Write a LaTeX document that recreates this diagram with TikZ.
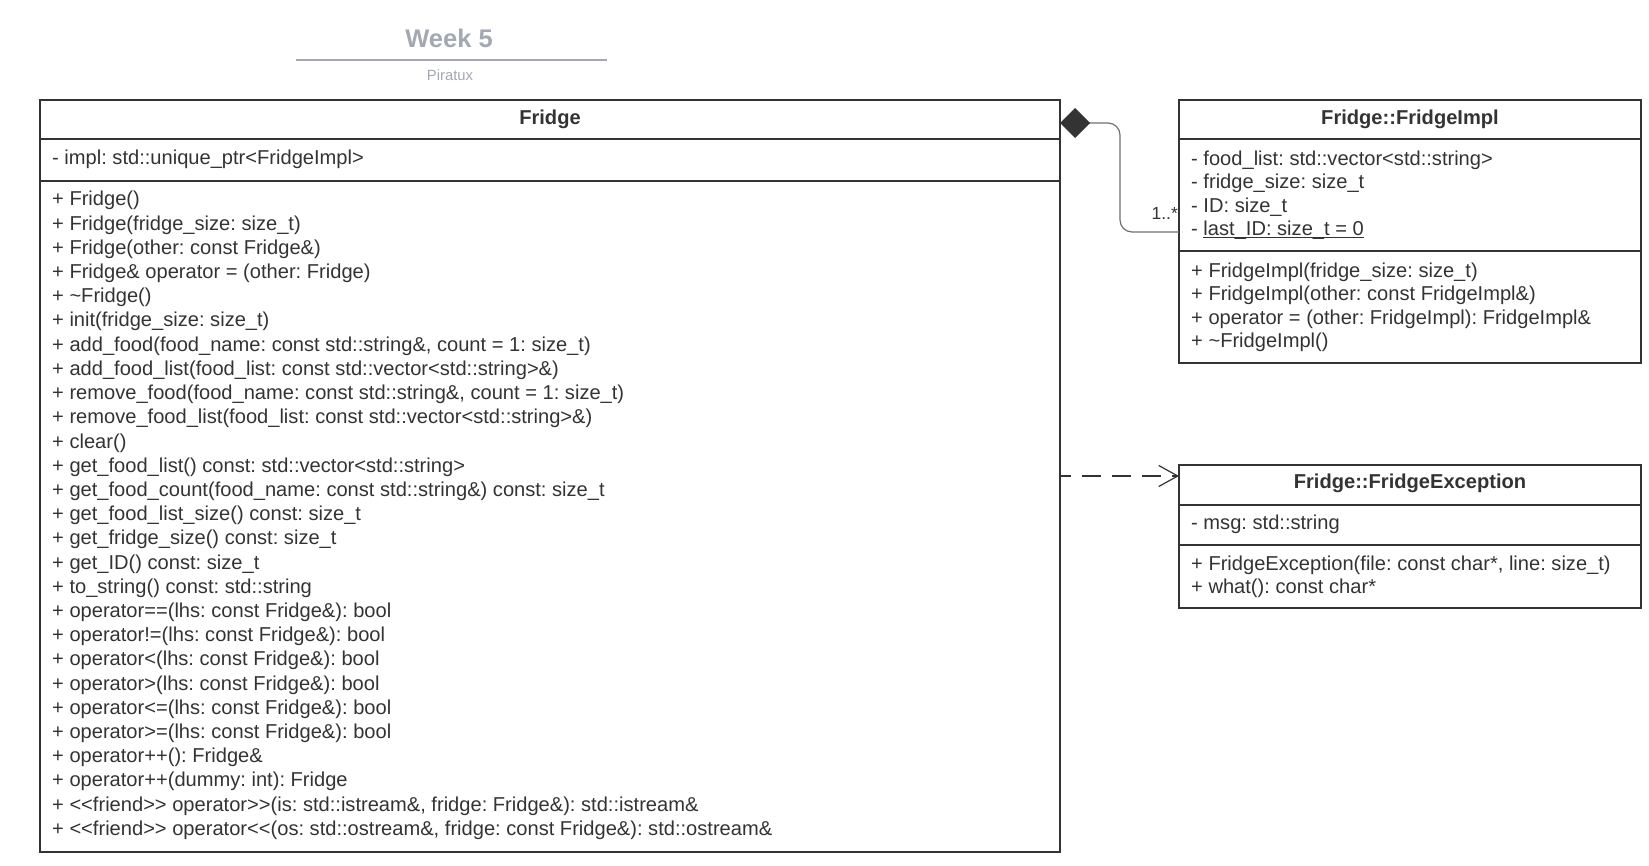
\documentclass[tikz,border=0pt]{standalone}
\usepackage{fontspec}
\setmainfont{Liberation Sans}[Ligatures=TeXOff]
\usetikzlibrary{calc,arrows.meta}
\definecolor{ink}{HTML}{333333}
\definecolor{titlegray}{HTML}{A3A8B3}
\definecolor{subgray}{HTML}{A3A8B1}
\definecolor{linkgray}{HTML}{6E6E6E}
% underline sitting just below the baseline
\newcommand\staticul[1]{\setbox0\hbox{#1}\rlap{\vrule height -1.6pt depth 2.8pt width \wd0}\box0}
\frenchspacing
\begin{document}
\begin{tikzpicture}[x=1pt,y=-1pt,
  classbox/.style={draw=ink, line width=2.2pt, rectangle, inner sep=0pt, outer sep=0pt, anchor=north west},
  divider/.style={draw=ink, line width=2pt},
  member/.style={anchor=base west, inner sep=0pt, text=ink, font=\fontsize{20.1}{23}\selectfont},
  classname/.style={anchor=base, inner sep=0pt, text=ink, font=\fontsize{20.1}{23}\selectfont\bfseries},
  compose/.style={draw=linkgray, line width=1.2pt, rounded corners=12pt,
    {Diamond[length=30pt,width=30pt,fill=ink,color=ink,line width=0pt]}-},
  depend/.style={draw=ink, line width=1.2pt, dash pattern=on 19pt off 11pt, dash phase=8pt,
    -{Straight Barb[length=19pt,width=21pt,line width=1.2pt]}},
]
\useasboundingbox (0,0) rectangle (1649,866);

% title block
\node[anchor=base, inner sep=0pt, text=titlegray, font=\fontsize{25.5}{30}\selectfont\bfseries] (title) at (449,47.8) {Week 5};
\draw[titlegray, line width=1.5pt] (296,60) -- (607,60);
\node[anchor=base, inner sep=0pt, text=subgray, font=\fontsize{14.8}{18}\selectfont] (author) at (450,80.5) {Piratux};

% class Fridge
\node[classbox, minimum width=1020pt, minimum height=752pt] (fridge) at (40,100) {};
\draw[divider] (fridge.west |- 0,139) -- (fridge.east |- 0,139);
\draw[divider] (fridge.west |- 0,181) -- (fridge.east |- 0,181);
\node[classname] (fname) at (550,124.3) {Fridge};
\node[member] (fa1) at (52,164.8) {- impl: std::unique\_ptr<FridgeImpl>};
\node[member] (fm1)  at (52,206.0) {+ Fridge()};
\node[member] (fm2)  at (52,230.2) {+ Fridge(fridge\_size: size\_t)};
\node[member] (fm3)  at (52,254.4) {+ Fridge(other: const Fridge\&)};
\node[member] (fm4)  at (52,278.6) {+ Fridge\& operator = (other: Fridge)};
\node[member] (fm5)  at (52,302.8) {+ \textasciitilde Fridge()};
\node[member] (fm6)  at (52,327.0) {+ init(fridge\_size: size\_t)};
\node[member] (fm7)  at (52,351.2) {+ add\_food(food\_name: const std::string\&, count = 1: size\_t)};
\node[member] (fm8)  at (52,375.4) {+ add\_food\_list(food\_list: const std::vector<std::string>\&)};
\node[member] (fm9)  at (52,399.6) {+ remove\_food(food\_name: const std::string\&, count = 1: size\_t)};
\node[member] (fm10) at (52,423.8) {+ remove\_food\_list(food\_list: const std::vector<std::string>\&)};
\node[member] (fm11) at (52,448.0) {+ clear()};
\node[member] (fm12) at (52,472.2) {+ get\_food\_list() const: std::vector<std::string>};
\node[member] (fm13) at (52,496.4) {+ get\_food\_count(food\_name: const std::string\&) const: size\_t};
\node[member] (fm14) at (52,520.6) {+ get\_food\_list\_size() const: size\_t};
\node[member] (fm15) at (52,544.8) {+ get\_fridge\_size() const: size\_t};
\node[member] (fm16) at (52,569.0) {+ get\_ID() const: size\_t};
\node[member] (fm17) at (52,593.2) {+ to\_string() const: std::string};
\node[member] (fm18) at (52,617.4) {+ operator==(lhs: const Fridge\&): bool};
\node[member] (fm19) at (52,641.6) {+ operator!=(lhs: const Fridge\&): bool};
\node[member] (fm20) at (52,665.8) {+ operator<(lhs: const Fridge\&): bool};
\node[member] (fm21) at (52,690.0) {+ operator>(lhs: const Fridge\&): bool};
\node[member] (fm22) at (52,714.2) {+ operator<=(lhs: const Fridge\&): bool};
\node[member] (fm23) at (52,738.4) {+ operator>=(lhs: const Fridge\&): bool};
\node[member] (fm24) at (52,762.6) {+ operator++(): Fridge\&};
\node[member] (fm25) at (52,786.8) {+ operator++(dummy: int): Fridge};
\node[member] (fm26) at (52,811.0) {+ <<friend>> operator>>(is: std::istream\&, fridge: Fridge\&): std::istream\&};
\node[member] (fm27) at (52,835.2) {+ <<friend>> operator<<(os: std::ostream\&, fridge: const Fridge\&): std::ostream\&};

% class Fridge::FridgeImpl
\node[classbox, minimum width=462pt, minimum height=263pt] (impl) at (1179,100) {};
\draw[divider] (impl.west |- 0,139) -- (impl.east |- 0,139);
\draw[divider] (impl.west |- 0,251) -- (impl.east |- 0,251);
\node[classname] (iname) at (1410,124.8) {Fridge::FridgeImpl};
\node[member] (ia1) at (1191,165.7) {- food\_list: std::vector<std::string>};
\node[member] (ia2) at (1191,189.0) {- fridge\_size: size\_t};
\node[member] (ia3) at (1191,212.3) {- ID: size\_t};
\node[member] (ia4) at (1191,235.6) {- \staticul{last\_ID: size\_t = 0}};
\node[member] (im1) at (1191,277.7) {+ FridgeImpl(fridge\_size: size\_t)};
\node[member] (im2) at (1191,301.0) {+ FridgeImpl(other: const FridgeImpl\&)};
\node[member] (im3) at (1191,324.3) {+ operator = (other: FridgeImpl): FridgeImpl\&};
\node[member] (im4) at (1191,347.6) {+ \textasciitilde FridgeImpl()};

% class Fridge::FridgeException
\node[classbox, minimum width=462pt, minimum height=143pt] (exc) at (1179,465) {};
\draw[divider] (exc.west |- 0,505) -- (exc.east |- 0,505);
\draw[divider] (exc.west |- 0,545) -- (exc.east |- 0,545);
\node[classname] (ename) at (1410,488.8) {Fridge::FridgeException};
\node[member] (ea1) at (1191,529.0) {- msg: std::string};
\node[member] (em1) at (1191,570.0) {+ FridgeException(file: const char*, line: size\_t)};
\node[member] (em2) at (1191,593.3) {+ what(): const char*};

% composition: Fridge owns FridgeImpl
\coordinate (dtip) at ($(fridge.north east)+(0,23)$);
\coordinate (implattach) at (impl.west |- 0,232);
\draw[compose] (dtip) -- ($(dtip)+(60,0)$) |- (implattach);
\node[anchor=base east, inner sep=0pt, text=ink, font=\fontsize{17.5}{20}\selectfont] (mult) at (1178,220) {1..*};

% dependency: Fridge uses FridgeException
\draw[depend] (fridge.east |- 0,476) -- (exc.west |- 0,476);
\end{tikzpicture}
\end{document}
